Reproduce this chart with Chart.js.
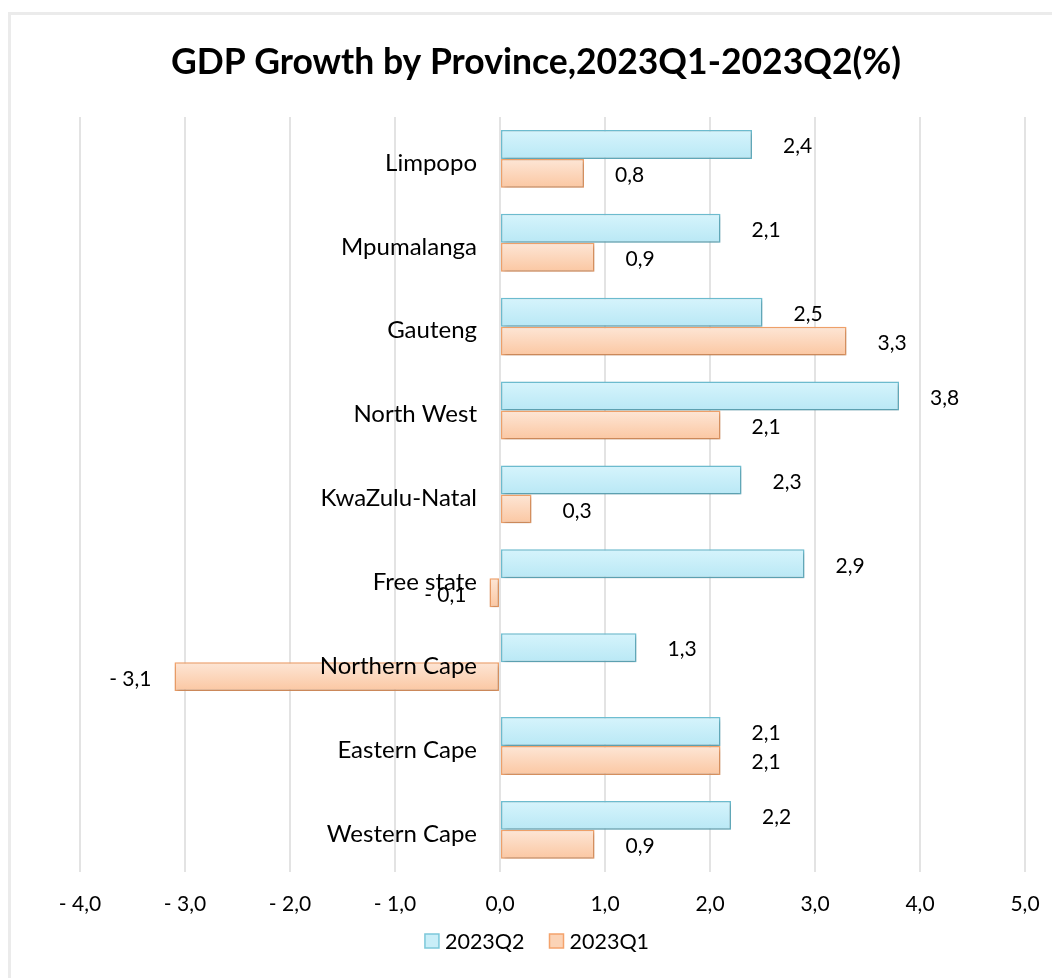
<!DOCTYPE html>
<html>
<head>
<meta charset="utf-8">
<script src="https://cdn.jsdelivr.net/npm/chart.js@4.4.0/dist/chart.umd.min.js"></script>
<style>
html, body { margin: 0; padding: 0; background: #fff; }
#frame { position: absolute; left: 8px; top: 12px; right: 0; bottom: 0; border-left: 3px solid #ebebeb; border-top: 3px solid #ebebeb; }
#wrap { position: absolute; left: 0; top: 0; width: 1052px; height: 978px; }
</style>
</head>
<body>
<div id="frame"></div>
<div id="wrap"><canvas id="chart" width="1052" height="978"></canvas></div>
<script>
'use strict';

// データ
var provinces = ["Limpopo", "Mpumalanga", "Gauteng", "North West", "KwaZulu-Natal", "Free state", "Northern Cape", "Eastern Cape", "Western Cape"];
var q2Values = [2.4, 2.1, 2.5, 3.8, 2.3, 2.9, 1.3, 2.1, 2.2];
var q1Values = [0.8, 0.9, 3.3, 2.1, 0.3, -0.1, -3.1, 2.1, 0.9];
var seriesNames = ["2023Q2", "2023Q1"];
var xTickValues = [-4, -3, -2, -1, 0, 1, 2, 3, 4, 5];
var titleText = "GDP Growth by Province,2023Q1-2023Q2(%)";

var FONT = "Lato";
var CAT_PCT = 0.69;

function fmt(v) {
    var s = Math.abs(v).toFixed(1).replace('.', ',');
    return v < 0 ? '- ' + s : s;
}

// 棒のグラデーション
function barFill(topCol, bottomCol, upper) {
    return function(c) {
        var chart = c.chart;
        var y = chart.scales.y;
        if (!y || c.dataIndex === undefined || !chart.chartArea) return topCol;
        var center = y.getPixelForValue(c.dataIndex);
        var half = (y.height / provinces.length) * CAT_PCT / 2;
        var t = upper ? center - half : center;
        var g = chart.ctx.createLinearGradient(0, t, 0, t + half);
        g.addColorStop(0, topCol);
        g.addColorStop(1, bottomCol);
        return g;
    };
}

var shadowPlugin = {
    id: 'shadow',
    beforeDatasetDraw: function(chart) {
        var ctx = chart.ctx;
        ctx.save();
        ctx.shadowColor = 'rgba(0,0,0,0.22)';
        ctx.shadowBlur = 4;
        ctx.shadowOffsetX = 1;
        ctx.shadowOffsetY = 2;
    },
    afterDatasetDraw: function(chart) {
        chart.ctx.restore();
    }
};

var labelPlugin = {
    id: 'labels',
    afterDatasetsDraw: function(chart) {
        var ctx = chart.ctx;
        var x = chart.scales.x, y = chart.scales.y;
        ctx.save();
        ctx.fillStyle = '#000';
        ctx.textBaseline = 'middle';

        // 値ラベル
        ctx.font = '21px ' + FONT;
        chart.data.datasets.forEach(function(ds, i) {
            chart.getDatasetMeta(i).data.forEach(function(bar, j) {
                var v = ds.data[j];
                if (v < 0) {
                    ctx.textAlign = 'right';
                    ctx.fillText(fmt(v), bar.x - 23, bar.y + 3);
                } else {
                    ctx.textAlign = 'left';
                    ctx.fillText(fmt(v), bar.x + 31, bar.y + 2);
                }
            });
        });

        // カテゴリラベル
        ctx.font = '24px ' + FONT;
        ctx.textAlign = 'right';
        var x0 = x.getPixelForValue(0);
        provinces.forEach(function(p, j) {
            ctx.fillText(p, x0 - 23, y.getPixelForValue(j) + 4);
        });

        // タイトル
        ctx.font = 'bold 35.5px ' + FONT;
        ctx.textAlign = 'center';
        ctx.fillText(titleText, 536, 63);

        // 凡例
        var boxFill = ['#c9eef8', '#fbd3b6'];
        var boxLine = ['#7cc8da', '#f4a36c'];
        ctx.font = '21.5px ' + FONT;
        ctx.textAlign = 'left';
        var box = 14, gap = 6, spacing = 25;
        var total = 0;
        seriesNames.forEach(function(n, i) {
            total += box + gap + ctx.measureText(n).width + (i > 0 ? spacing : 0);
        });
        var lx = 537 - total / 2;
        var ly = 942;
        seriesNames.forEach(function(n, i) {
            ctx.fillStyle = boxFill[i];
            ctx.fillRect(lx, ly - 8, box, box);
            ctx.strokeStyle = boxLine[i];
            ctx.lineWidth = 1.5;
            ctx.strokeRect(lx, ly - 8, box, box);
            ctx.fillStyle = '#000';
            ctx.fillText(n, lx + box + gap, ly);
            lx += box + gap + ctx.measureText(n).width + spacing;
        });
        ctx.restore();
    }
};

var chart = new Chart(document.getElementById('chart').getContext('2d'), {
    type: 'bar',
    data: {
        labels: provinces,
        datasets: [{
            label: seriesNames[0],
            data: q2Values,
            backgroundColor: barFill('#d6f4fc', '#b9e8f5', true),
            borderColor: '#6fc0d3',
            borderWidth: 1.5,
            borderSkipped: false
        }, {
            label: seriesNames[1],
            data: q1Values,
            backgroundColor: barFill('#fde6d6', '#fbc7a2', false),
            borderColor: '#f4a46c',
            borderWidth: 1.5,
            borderSkipped: false
        }]
    },
    options: {
        indexAxis: 'y',
        responsive: false,
        animation: false,
        layout: { padding: { top: 117, left: 80, right: 27, bottom: 41 } },
        datasets: { bar: { categoryPercentage: CAT_PCT, barPercentage: 1.0 } },
        plugins: {
            legend: { display: false },
            title: { display: false },
            tooltip: { enabled: false }
        },
        scales: {
            x: {
                min: xTickValues[0],
                max: xTickValues[xTickValues.length - 1],
                afterBuildTicks: function(axis) {
                    axis.ticks = xTickValues.map(function(v) { return { value: v }; });
                },
                afterFit: function(axis) {
                    axis.paddingLeft = 0;
                    axis.paddingRight = 0;
                },
                ticks: {
                    callback: function(v) { return fmt(v); },
                    font: { family: FONT, size: 21 },
                    color: '#000',
                    padding: 20
                },
                grid: { color: '#e3e3e3', lineWidth: 2, drawTicks: false },
                border: { display: false }
            },
            y: { display: false }
        }
    },
    plugins: [shadowPlugin, labelPlugin]
});
</script>
</body>
</html>
